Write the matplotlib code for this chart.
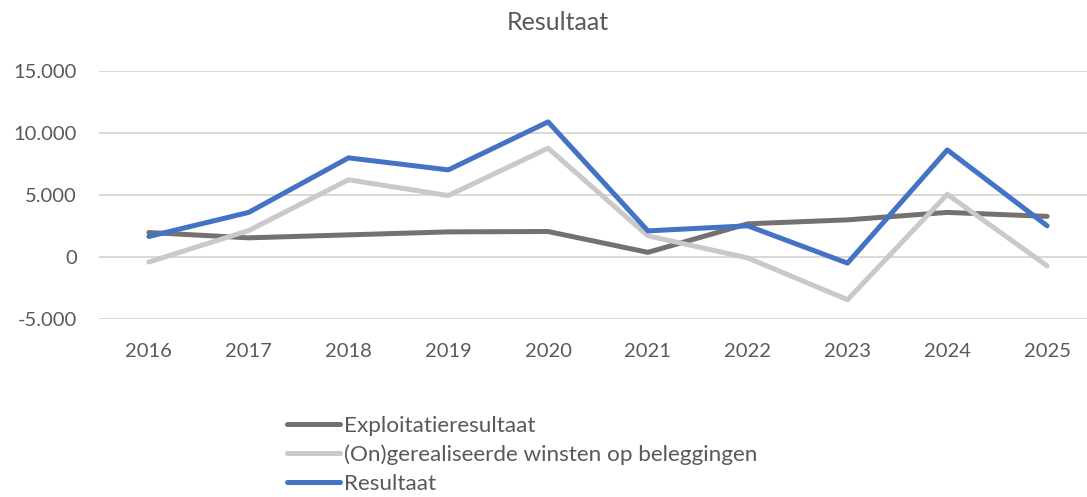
import matplotlib
matplotlib.use("Agg")
import matplotlib.pyplot as plt
from matplotlib.ticker import FuncFormatter

plt.rcParams['font.family'] = ['Lato', 'DejaVu Sans']

years = ["2016", "2017", "2018", "2019", "2020", "2021", "2022", "2023", "2024", "2025"]
exploitatie = [2000, 1570, 1810, 2050, 2080, 400, 2700, 3020, 3620, 3300]
ongerealiseerd = [-380, 2160, 6250, 4980, 8800, 1730, -50, -3420, 5080, -690]
resultaat = [1680, 3620, 8020, 7050, 10920, 2130, 2540, -470, 8660, 2540]

labels = ["Exploitatieresultaat", "(On)gerealiseerde winsten op beleggingen", "Resultaat"]
colors = ["#767171", "#C9C9C9", "#4472C4"]
text_color = "#595959"

W, H = 1087, 497
fig = plt.figure(figsize=(W / 100, H / 100), dpi=100)
left, right = 99, 1097
top, bottom = 71.3, 319.3
ax = fig.add_axes([left / W, 1 - bottom / H, (right - left) / W, (bottom - top) / H])

x = list(range(len(years)))
for series, lab, col in zip([exploitatie, ongerealiseerd, resultaat], labels, colors):
    ax.plot(x, series, color=col, lw=3.6, label=lab, solid_capstyle='round',
            solid_joinstyle='round')

ax.set_xlim(-0.5, len(years) - 0.5)
ax.set_ylim(-5000, 15000)
ax.set_yticks([-5000, 0, 5000, 10000, 15000])
ax.yaxis.set_major_formatter(FuncFormatter(lambda v, p: f"{int(v):,}".replace(",", ".")))
ax.set_xticks(x)
ax.set_xticklabels(years)
ax.grid(axis='y', color="#D9D9D9", lw=1.4)
ax.set_axisbelow(True)
for s in ax.spines.values():
    s.set_visible(False)
ax.tick_params(axis='both', length=0, labelsize=14.5, colors=text_color)
ax.tick_params(axis='y', pad=16)
ax.tick_params(axis='x', pad=17)

fig.text(558 / W, 1 - 22 / H, "Resultaat", ha='center', va='center', fontsize=18, color=text_color)

leg = fig.legend(loc='upper left', bbox_to_anchor=(287 / W, 1 - 416 / H), frameon=False,
                 fontsize=16.2, handlelength=2.35, handletextpad=0.2, labelspacing=0.38,
                 borderaxespad=0, borderpad=0)
for t in leg.get_texts():
    t.set_color(text_color)

fig.savefig("out.png", dpi=100)
